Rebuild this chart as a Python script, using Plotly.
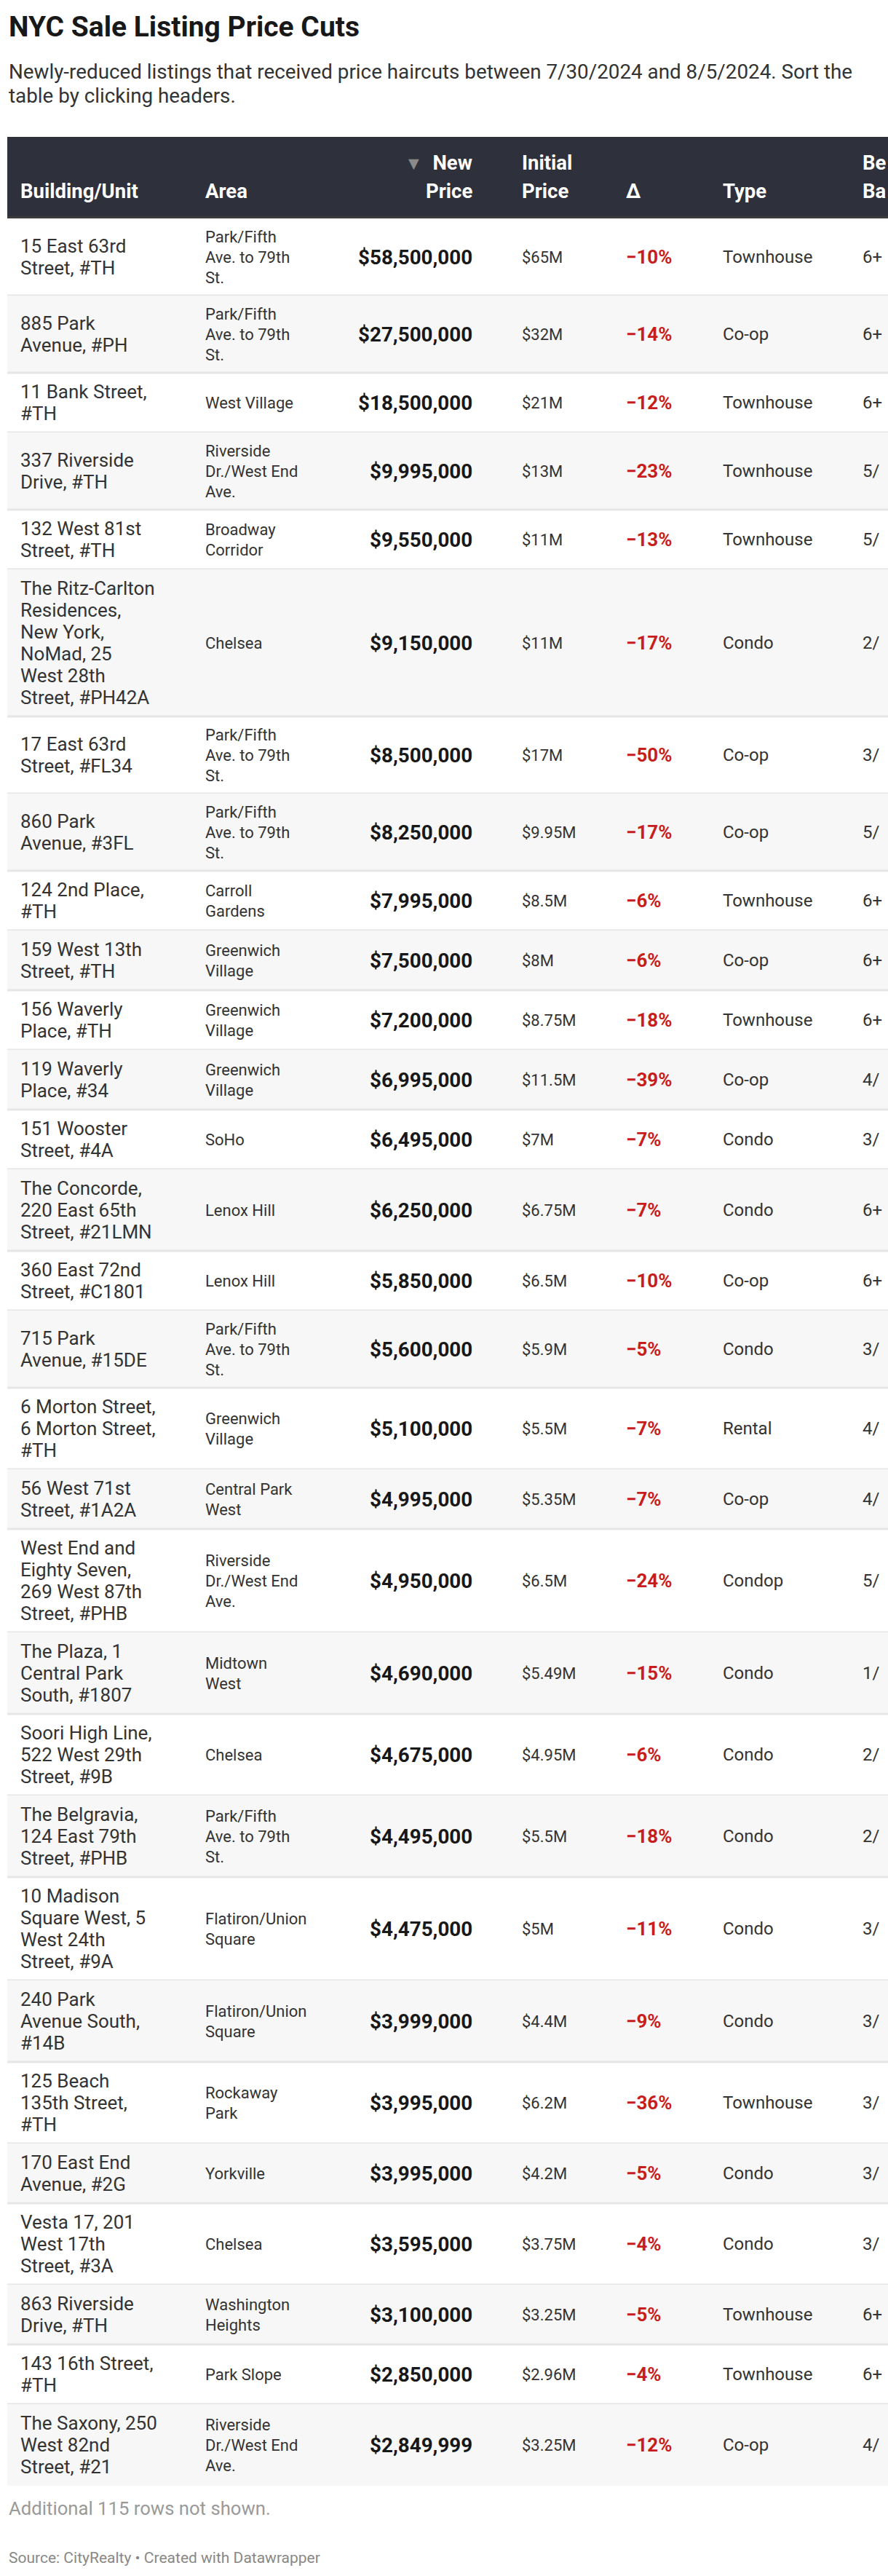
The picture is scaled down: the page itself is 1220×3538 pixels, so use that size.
import plotly.graph_objects as go

# ---------------- data ----------------
title = "NYC Sale Listing Price Cuts"
subtitle_lines = [
    "Newly-reduced listings that received price haircuts between 7/30/2024 and 8/5/2024. Sort the",
    "table by clicking headers.",
]
footnote = "Additional 115 rows not shown."
source = "Source: CityRealty • Created with Datawrapper"

col_headers = ["Building/Unit", "Area", "New<br>Price", "Initial<br>Price", "Δ", "Type", "Be<br>Ba"]

buildings = [
    "15 East 63rd<br>Street, #TH",
    "885 Park<br>Avenue, #PH",
    "11 Bank Street,<br>#TH",
    "337 Riverside<br>Drive, #TH",
    "132 West 81st<br>Street, #TH",
    "The Ritz-Carlton<br>Residences,<br>New York,<br>NoMad, 25<br>West 28th<br>Street, #PH42A",
    "17 East 63rd<br>Street, #FL34",
    "860 Park<br>Avenue, #3FL",
    "124 2nd Place,<br>#TH",
    "159 West 13th<br>Street, #TH",
    "156 Waverly<br>Place, #TH",
    "119 Waverly<br>Place, #34",
    "151 Wooster<br>Street, #4A",
    "The Concorde,<br>220 East 65th<br>Street, #21LMN",
    "360 East 72nd<br>Street, #C1801",
    "715 Park<br>Avenue, #15DE",
    "6 Morton Street,<br>6 Morton Street,<br>#TH",
    "56 West 71st<br>Street, #1A2A",
    "West End and<br>Eighty Seven,<br>269 West 87th<br>Street, #PHB",
    "The Plaza, 1<br>Central Park<br>South, #1807",
    "Soori High Line,<br>522 West 29th<br>Street, #9B",
    "The Belgravia,<br>124 East 79th<br>Street, #PHB",
    "10 Madison<br>Square West, 5<br>West 24th<br>Street, #9A",
    "240 Park<br>Avenue South,<br>#14B",
    "125 Beach<br>135th Street,<br>#TH",
    "170 East End<br>Avenue, #2G",
    "Vesta 17, 201<br>West 17th<br>Street, #3A",
    "863 Riverside<br>Drive, #TH",
    "143 16th Street,<br>#TH",
    "The Saxony, 250<br>West 82nd<br>Street, #21",
]

areas = [
    "Park/Fifth<br>Ave. to 79th<br>St.",
    "Park/Fifth<br>Ave. to 79th<br>St.",
    "West Village",
    "Riverside<br>Dr./West End<br>Ave.",
    "Broadway<br>Corridor",
    "Chelsea",
    "Park/Fifth<br>Ave. to 79th<br>St.",
    "Park/Fifth<br>Ave. to 79th<br>St.",
    "Carroll<br>Gardens",
    "Greenwich<br>Village",
    "Greenwich<br>Village",
    "Greenwich<br>Village",
    "SoHo",
    "Lenox Hill",
    "Lenox Hill",
    "Park/Fifth<br>Ave. to 79th<br>St.",
    "Greenwich<br>Village",
    "Central Park<br>West",
    "Riverside<br>Dr./West End<br>Ave.",
    "Midtown<br>West",
    "Chelsea",
    "Park/Fifth<br>Ave. to 79th<br>St.",
    "Flatiron/Union<br>Square",
    "Flatiron/Union<br>Square",
    "Rockaway<br>Park",
    "Yorkville",
    "Chelsea",
    "Washington<br>Heights",
    "Park Slope",
    "Riverside<br>Dr./West End<br>Ave.",
]

new_prices = [58500000, 27500000, 18500000, 9995000, 9550000, 9150000, 8500000, 8250000,
              7995000, 7500000, 7200000, 6995000, 6495000, 6250000, 5850000, 5600000,
              5100000, 4995000, 4950000, 4690000, 4675000, 4495000, 4475000, 3999000,
              3995000, 3995000, 3595000, 3100000, 2850000, 2849999]

initial_prices = ["$65M", "$32M", "$21M", "$13M", "$11M", "$11M", "$17M", "$9.95M",
                  "$8.5M", "$8M", "$8.75M", "$11.5M", "$7M", "$6.75M", "$6.5M", "$5.9M",
                  "$5.5M", "$5.35M", "$6.5M", "$5.49M", "$4.95M", "$5.5M", "$5M", "$4.4M",
                  "$6.2M", "$4.2M", "$3.75M", "$3.25M", "$2.96M", "$3.25M"]

deltas = [-10, -14, -12, -23, -13, -17, -50, -17, -6, -6, -18, -39, -7, -7, -10, -5,
          -7, -7, -24, -15, -6, -18, -11, -9, -36, -5, -4, -5, -4, -12]

types = ["Townhouse", "Co-op", "Townhouse", "Townhouse", "Townhouse", "Condo", "Co-op", "Co-op",
         "Townhouse", "Co-op", "Townhouse", "Co-op", "Condo", "Condo", "Co-op", "Condo",
         "Rental", "Co-op", "Condop", "Condo", "Condo", "Condo", "Condo", "Condo",
         "Townhouse", "Condo", "Condo", "Townhouse", "Townhouse", "Co-op"]

beds_baths = ["6+", "6+", "6+", "5/", "5/", "2/", "3/", "5/", "6+", "6+", "6+", "4/", "3/", "6+",
              "6+", "3/", "4/", "4/", "5/", "1/", "2/", "2/", "3/", "3/", "3/", "3/", "3/", "6+",
              "6+", "4/"]

# ---------------- style / geometry ----------------
W, H = 1220, 3538
FONT = "Roboto"
TEXT = "#333333"
DARK = "#181818"
RED = "#c71e1d"
HEADER_BG = "#2e313b"
STRIPE = "#f7f7f7"
SEP = "#e6e6e6"

TABLE_X0 = 10
HEADER_TOP, HEADER_BOTTOM = 188, 300
LH_BUILD, LH_AREA, PAD = 30, 28, 22

COL_X = {"build": 27, "area": 281, "new": 650, "init": 716, "delta": 859, "type": 992, "beds": 1184}

annotations = []
shapes = []


def add_text(x, y, text, size, color, xanchor="left", bold=False):
    if bold:
        text = "<b>" + text + "</b>"
    annotations.append(dict(
        x=x, y=y, xref="x", yref="y", text=text, showarrow=False,
        xanchor=xanchor, yanchor="middle", align=xanchor if xanchor != "center" else "center",
        font=dict(family=FONT, size=size, color=color), borderpad=0,
    ))


def add_lines(x, center, text, spacing, size, color, xanchor="left", bold=False):
    lines = text.split("<br>")
    n = len(lines)
    for i, ln in enumerate(lines):
        add_text(x, center + (i - (n - 1) / 2) * spacing, ln, size, color, xanchor, bold)


# title & subtitle
add_text(11, 37, title, 39, DARK, bold=True)
for i, ln in enumerate(subtitle_lines):
    add_text(11, 98 + i * 33, ln, 27.8, TEXT)

# header
shapes.append(dict(type="rect", xref="x", yref="y", x0=TABLE_X0, x1=W, y0=HEADER_TOP, y1=HEADER_BOTTOM,
                   fillcolor=HEADER_BG, line=dict(width=0), layer="below"))
shapes.append(dict(type="rect", xref="x", yref="y", x0=TABLE_X0, x1=W, y0=HEADER_BOTTOM - 3, y1=HEADER_BOTTOM,
                   fillcolor="#3a3b3d", line=dict(width=0), layer="below"))

HDR_BOTTOM_LINE = 262
HDR_SPACING = 39
hdr_keys = ["build", "area", "new", "init", "delta", "type", "beds"]
for key, htxt in zip(hdr_keys, col_headers):
    lines = htxt.split("<br>")
    xa = "right" if key == "new" else "left"
    for i, ln in enumerate(reversed(lines)):
        y = HDR_BOTTOM_LINE - i * HDR_SPACING
        if key == "new" and ln == "New":
            ln = "<span style='color:#8a8a8a;font-size:25px'>▼</span>&nbsp; New"
        add_text(COL_X[key], y, ln, 27.5, "#ffffff", xanchor=xa, bold=True)

# rows
top = HEADER_BOTTOM
n_rows = len(buildings)
for r in range(n_rows):
    nb = len(buildings[r].split("<br>"))
    na = len(areas[r].split("<br>"))
    h = max(nb * LH_BUILD, na * LH_AREA, LH_BUILD) + PAD
    bottom = top + h
    if r % 2 == 1:
        shapes.append(dict(type="rect", xref="x", yref="y", x0=TABLE_X0, x1=W, y0=top, y1=bottom,
                           fillcolor=STRIPE, line=dict(width=0), layer="below"))
    if r < n_rows - 1:
        shapes.append(dict(type="rect", xref="x", yref="y", x0=TABLE_X0, x1=W, y0=bottom - 1.5, y1=bottom + 1.5,
                           fillcolor=SEP, line=dict(width=0), layer="below"))
    c = (top + bottom) / 2
    add_lines(COL_X["build"], c, buildings[r], LH_BUILD, 26, TEXT)
    add_lines(COL_X["area"], c, areas[r], LH_AREA, 22, TEXT)
    add_text(COL_X["new"], c, f"${new_prices[r]:,}", 27.8, DARK, xanchor="right", bold=True)
    add_text(COL_X["init"], c, initial_prices[r], 22, TEXT)
    add_text(COL_X["delta"], c, f"\u2212{abs(deltas[r])}%", 26, RED, bold=True)
    add_text(COL_X["type"], c, types[r], 24, TEXT)
    add_text(COL_X["beds"], c, beds_baths[r], 24, TEXT)
    top = bottom

# footer
add_text(11, top + 31, footnote, 25.7, "#9a9a9a")
add_text(11, top + 99, source, 21, "#888888")

fig = go.Figure()
fig.add_trace(go.Scatter(x=[0, W], y=[0, H], mode="markers", marker=dict(opacity=0), hoverinfo="skip",
                         showlegend=False))
fig.update_layout(
    width=W, height=H, margin=dict(l=0, r=0, t=0, b=0),
    paper_bgcolor="white", plot_bgcolor="white",
    xaxis=dict(range=[0, W], visible=False, fixedrange=True),
    yaxis=dict(range=[H, 0], visible=False, fixedrange=True),
    annotations=annotations, shapes=shapes, showlegend=False,
)
fig.write_html("out.html", post_script="document.body.style.margin='0';document.body.style.overflow='hidden';",
               config={"displayModeBar": False})
